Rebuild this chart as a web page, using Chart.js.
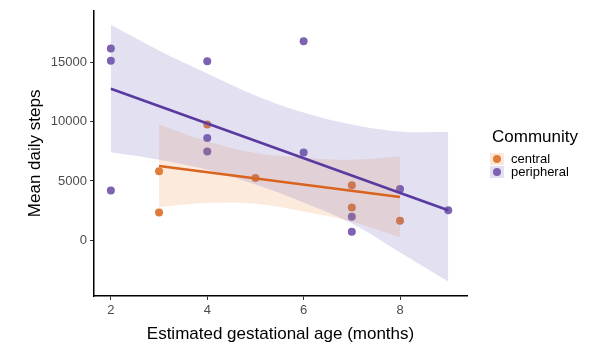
<!DOCTYPE html>
<html>
<head>
<meta charset="utf-8">
<script src="https://cdn.jsdelivr.net/npm/chart.js@4.4.0/dist/chart.umd.min.js"></script>
<style>
html, body { margin: 0; padding: 0; background: #fff; }
</style>
</head>
<body>
<canvas id="chart" width="598" height="346"></canvas>
<script>
// points
var centralX = [3, 3, 4, 5, 7, 7, 8];
var centralY = [5820, 2330, 9780, 5250, 4640, 2750, 1630];
var peripheralX = [2, 2, 2, 4, 4, 4, 6, 6, 7, 7, 8, 9];
var peripheralY = [16200, 15150, 4200, 15120, 8630, 7500, 16800, 7400, 1970, 700, 4330, 2530];

// fitted lines (end points)
var centralFitX = [3, 8];
var centralFitY = [6270, 3650];
var peripheralFitX = [2, 9];
var peripheralFitY = [12790, 2530];

// confidence bands
var centralBandX = [3, 4, 5, 6, 7, 8];
var centralUpper = [9780, 8360, 7370, 6970, 6790, 7060];
var centralLower = [2780, 3140, 3070, 2420, 1560, 260];
var peripheralBandX = [2, 3, 4, 5, 6, 7, 8, 9];
var peripheralUpper = [18200, 16020, 14080, 12230, 10790, 9780, 9190, 9130];
var peripheralLower = [7420, 6800, 5950, 4700, 3180, 1400, -1040, -3500];

var xTicks = [2, 4, 6, 8];
var yTicks = [0, 5000, 10000, 15000];
var groups = ['central', 'peripheral'];

function pts(xs, ys) {
    return xs.map(function (x, i) { return { x: x, y: ys[i] }; });
}

var FONT = '"Liberation Sans", Arial, sans-serif';
var orangePt = 'rgb(224,124,58)';
var purplePt = 'rgb(124,98,176)';
var orangeLine = 'rgb(217,100,30)';
var purpleLine = 'rgb(88,58,160)';

var legendBox = {
    id: 'legendBox',
    afterDraw: function (chart) {
        var c = chart.ctx;
        c.save();
        c.textBaseline = 'middle';
        c.fillStyle = '#000';
        c.font = '17px ' + FONT;
        c.fillText('Community', 492, 137);
        var keys = [
            { y: 159, fill: 'rgba(240,140,60,0.2)', col: orangePt },
            { y: 172, fill: 'rgba(117,100,190,0.2)', col: purplePt }
        ];
        c.font = '13px ' + FONT;
        keys.forEach(function (k, i) {
            c.fillStyle = k.fill;
            c.fillRect(490, k.y - 6, 14, 12);
            c.fillStyle = k.col;
            c.beginPath();
            c.arc(497, k.y, 4, 0, Math.PI * 2);
            c.fill();
            c.fillStyle = '#000';
            c.fillText(groups[i], 511, k.y);
        });
        c.restore();
    }
};

var ctx = document.getElementById('chart').getContext('2d');
var myChart = new Chart(ctx, {
    type: 'scatter',
    data: {
        datasets: [
            {
                label: 'central upper',
                data: pts(centralBandX, centralUpper),
                showLine: true, tension: 0.4, borderWidth: 0, pointRadius: 0,
                fill: false, order: 10
            },
            {
                label: 'central lower',
                data: pts(centralBandX, centralLower),
                showLine: true, tension: 0.4, borderWidth: 0, pointRadius: 0,
                fill: '-1', backgroundColor: 'rgba(240,140,60,0.18)', order: 10
            },
            {
                label: 'peripheral upper',
                data: pts(peripheralBandX, peripheralUpper),
                showLine: true, tension: 0.4, borderWidth: 0, pointRadius: 0,
                fill: false, order: 9
            },
            {
                label: 'peripheral lower',
                data: pts(peripheralBandX, peripheralLower),
                showLine: true, tension: 0.4, borderWidth: 0, pointRadius: 0,
                fill: '-1', backgroundColor: 'rgba(117,100,190,0.2)', order: 9
            },
            {
                label: 'central',
                data: pts(centralX, centralY),
                pointRadius: 4, pointBackgroundColor: orangePt, pointBorderWidth: 0,
                order: 11
            },
            {
                label: 'peripheral',
                data: pts(peripheralX, peripheralY),
                pointRadius: 4, pointBackgroundColor: purplePt, pointBorderWidth: 0,
                order: 11
            },
            {
                label: 'central fit',
                data: pts(centralFitX, centralFitY),
                showLine: true, borderColor: orangeLine, borderWidth: 2.6, pointRadius: 0,
                order: 1
            },
            {
                label: 'peripheral fit',
                data: pts(peripheralFitX, peripheralFitY),
                showLine: true, borderColor: purpleLine, borderWidth: 2.6, pointRadius: 0,
                order: 1
            }
        ]
    },
    options: {
        responsive: false,
        animation: false,
        layout: { padding: { top: 10, right: 131, left: 0, bottom: 0 } },
        plugins: {
            legend: { display: false },
            tooltip: { enabled: false }
        },
        scales: {
            x: {
                type: 'linear',
                min: 1.65,
                max: 9.39,
                afterBuildTicks: function (s) { s.ticks = xTicks.map(function (v) { return { value: v }; }); },
                afterFit: function (s) { s.height = 50; },
                grid: { drawOnChartArea: false, drawTicks: true, tickLength: 4, tickColor: '#333', tickWidth: 1 },
                border: { display: true, color: '#000', width: 1.5 },
                ticks: { color: '#4d4d4d', padding: 3, font: { size: 13, family: FONT } },
                title: {
                    display: true, text: 'Estimated gestational age (months)',
                    color: '#000', font: { size: 17, family: FONT }, padding: { top: 0, bottom: 1 }
                }
            },
            y: {
                type: 'linear',
                min: -4720,
                max: 19380,
                afterBuildTicks: function (s) { s.ticks = yTicks.map(function (v) { return { value: v }; }); },
                afterFit: function (s) { s.width = 94; },
                grid: { drawOnChartArea: false, drawTicks: true, tickLength: 4, tickColor: '#333', tickWidth: 1 },
                border: { display: true, color: '#000', width: 1.5 },
                ticks: {
                    color: '#4d4d4d', padding: 3, font: { size: 13, family: FONT },
                    callback: function (v) { return String(v); }
                },
                title: {
                    display: true, text: 'Mean daily steps',
                    color: '#000', font: { size: 17, family: FONT }, padding: { top: 25, bottom: 0 }
                }
            }
        }
    },
    plugins: [legendBox]
});
</script>
</body>
</html>
